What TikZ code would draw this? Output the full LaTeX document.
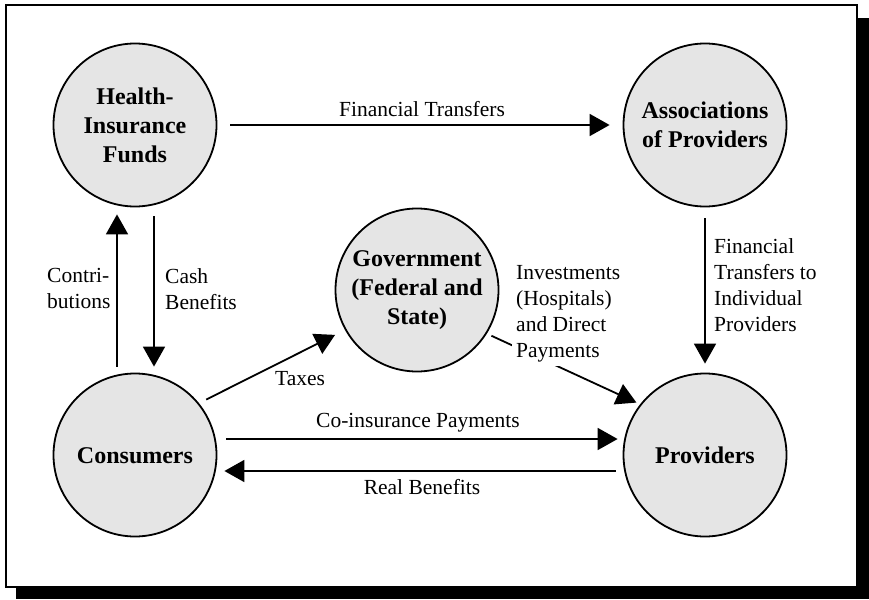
\documentclass[tikz,border=0pt]{standalone}
\usepackage{fontspec}
\setmainfont{Liberation Serif}
\usetikzlibrary{arrows.meta}

\tikzset{
  party/.style={circle, draw=black, line width=1.8pt, fill=black!10,
    minimum size=163pt, inner sep=0pt, align=center,
    font=\fontsize{24}{29}\selectfont\bfseries},
  oneline/.style={text height=17pt, text depth=-3pt},
  flow/.style={line width=1.8pt, -{Triangle[length=20pt,width=22pt]}},
  lbl/.style={inner sep=0pt, align=left, font=\fontsize{21.5}{26}\selectfont},
}

\begin{document}
\begin{tikzpicture}[x=1pt, y=-1pt]
  \useasboundingbox (0,0) rectangle (869,599);

  % shadowed frame
  \fill[black] (16,18) rectangle (869,599);
  \draw[line width=1.5pt, fill=white] (6,5) rectangle (857,587);

  % the five parties
  \node[party] (hif)  at (135,125) {Health-\\Insurance\\Funds};
  \node[party] (ap)   at (705,125) {Associations\\of Providers};
  \node[party] (gov)  at (417,290) {Government\\(Federal and\\State)};
  \node[party, oneline] (con)  at (135,455) {Consumers};
  \node[party, oneline] (prov) at (705,455) {Providers};

  % money and benefit flows
  \draw[flow, shorten <=13pt, shorten >=13pt] (hif) -- (ap);
  \draw[flow, shorten <=11pt, shorten >=9pt] (ap.south) -- (prov.north);
  \draw[flow, shorten <=6pt, shorten >=7pt]
    ([xshift=-18pt]con.north) -- ([xshift=-18pt]hif.south);
  \draw[flow, shorten <=9pt, shorten >=6pt]
    ([xshift=19pt]hif.south) -- ([xshift=19pt]con.north);
  \draw[flow, shorten <=8pt, shorten >=11pt] (con.39) -- (gov.209);
  \draw[flow, shorten <=5pt, shorten >=4pt] (gov.328) -- (prov.142);
  \draw[flow, shorten <=9pt, shorten >=5pt]
    ([yshift=16pt]con.east) -- ([yshift=16pt]prov.west);
  \draw[flow, shorten <=7pt, shorten >=7pt]
    ([yshift=-16pt]prov.west) -- ([yshift=-16pt]con.east);

  % flow labels
  \node[lbl, anchor=base] (lft) at (422,117) {Financial Transfers};
  \node[lbl, anchor=north west] (lfti) at (714,238)
    {Financial\\Transfers to\\Individual\\Providers};
  \node[lbl, anchor=north west] (lcon) at (47,268) {Contri-\\butions};
  \node[lbl, anchor=north west] (lcash) at (165,268) {Cash\\Benefits};
  \node[lbl, anchor=base west] (ltax) at (275,385) {Taxes};
  \node[lbl, anchor=north west, fill=white, inner sep=4pt] (linv) at (512,261)
    {Investments\\(Hospitals)\\and Direct\\Payments};
  \node[lbl, anchor=base] (lco) at (418,427) {Co-insurance Payments};
  \node[lbl, anchor=base] (lreal) at (422,494) {Real Benefits};
\end{tikzpicture}
\end{document}
